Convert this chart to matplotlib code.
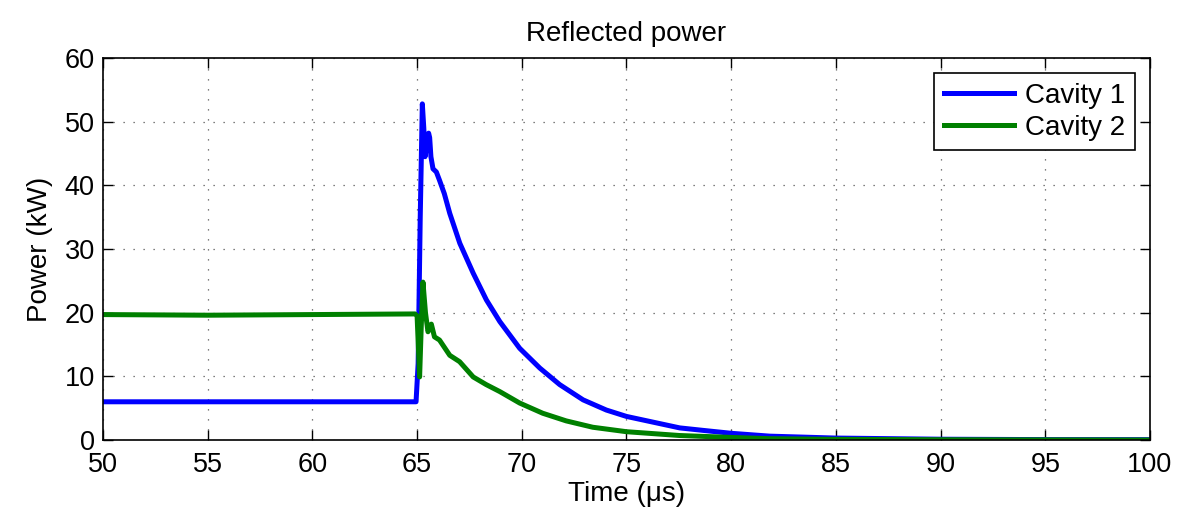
import numpy as np
import matplotlib
matplotlib.use('Agg')
import matplotlib.pyplot as plt

plt.rcParams['font.family'] = ['Liberation Sans', 'DejaVu Sans']

# Cavity 1 reflected power (kW) vs time (us)
t_cav1 = [50, 55, 60, 64.95, 65.05, 65.15, 65.25, 65.32, 65.38, 65.47, 65.55, 65.6, 65.66,
          65.76, 65.92, 66.07, 66.3, 66.56, 67.04, 67.68, 68.31, 68.95, 69.9, 70.86,
          71.81, 72.93, 74.04, 75.0, 76.27, 77.54, 78.68, 80.0, 81.85, 85.0, 90.0,
          95.0, 100.0]
p_cav1 = [6.0, 6.0, 6.0, 6.0, 12.0, 35.0, 52.8, 49.0, 44.5, 46.5, 48.2, 47.5, 44.5,
          42.6, 42.1, 40.8, 38.7, 35.6, 30.9, 26.2, 22.0, 18.6, 14.4, 11.3,
          8.7, 6.3, 4.7, 3.7, 2.8, 1.9, 1.5, 1.05, 0.6, 0.3, 0.12,
          0.06, 0.05]

# Cavity 2 reflected power (kW) vs time (us)
t_cav2 = [50, 55, 60, 64.9, 65.0, 65.12, 65.2, 65.28, 65.4, 65.52, 65.68, 65.83,
          66.07, 66.56, 67.03, 67.68, 68.3, 68.95, 69.9, 71.0, 72.12, 73.39, 75.0,
          76.27, 77.54, 80.0, 81.85, 85.0, 90.0, 100.0]
p_cav2 = [19.7, 19.6, 19.7, 19.8, 19.5, 9.9, 18.0, 24.8, 20.0, 17.0, 18.2, 16.2,
          15.7, 13.3, 12.3, 9.9, 8.7, 7.6, 5.8, 4.2, 3.0, 2.0, 1.3,
          1.0, 0.7, 0.4, 0.2, 0.1, 0.04, 0.0]

fig = plt.figure(figsize=(11.95, 5.09), dpi=100)
ax = fig.add_axes([0.0862, 0.1356, 0.8761, 0.7504])

ax.plot(t_cav1, p_cav1, color='#0000ff', lw=3.6, label='Cavity 1')
ax.plot(t_cav2, p_cav2, color='#008000', lw=3.6, label='Cavity 2')

ax.set_xlim(50, 100)
ax.set_ylim(0, 60)
ax.set_xticks(np.arange(50, 101, 5))
ax.set_yticks(np.arange(0, 61, 10))
ax.tick_params(direction='in', labelsize=19.5, top=True, right=True, length=7, width=1)
ax.tick_params(axis='x', pad=9)
ax.tick_params(axis='y', pad=6)
ax.grid(True, linestyle=(0, (1, 7)), color='#555555', linewidth=0.9)
for s in ax.spines.values():
    s.set_linewidth(1.2)

ax.set_xlabel('Time (\u03bcs)', fontsize=20, labelpad=2)
ax.set_ylabel('Power (kW)', fontsize=20, labelpad=8)
ax.set_title('Reflected power', fontsize=20, pad=12)

leg = ax.legend(loc='upper right', fontsize=20, fancybox=False, framealpha=1,
                edgecolor='black', handlelength=2.5, borderpad=0.35,
                labelspacing=0.2, handletextpad=0.4, borderaxespad=0.55)
leg.get_frame().set_linewidth(1.2)

fig.savefig('out.png', dpi=100)
